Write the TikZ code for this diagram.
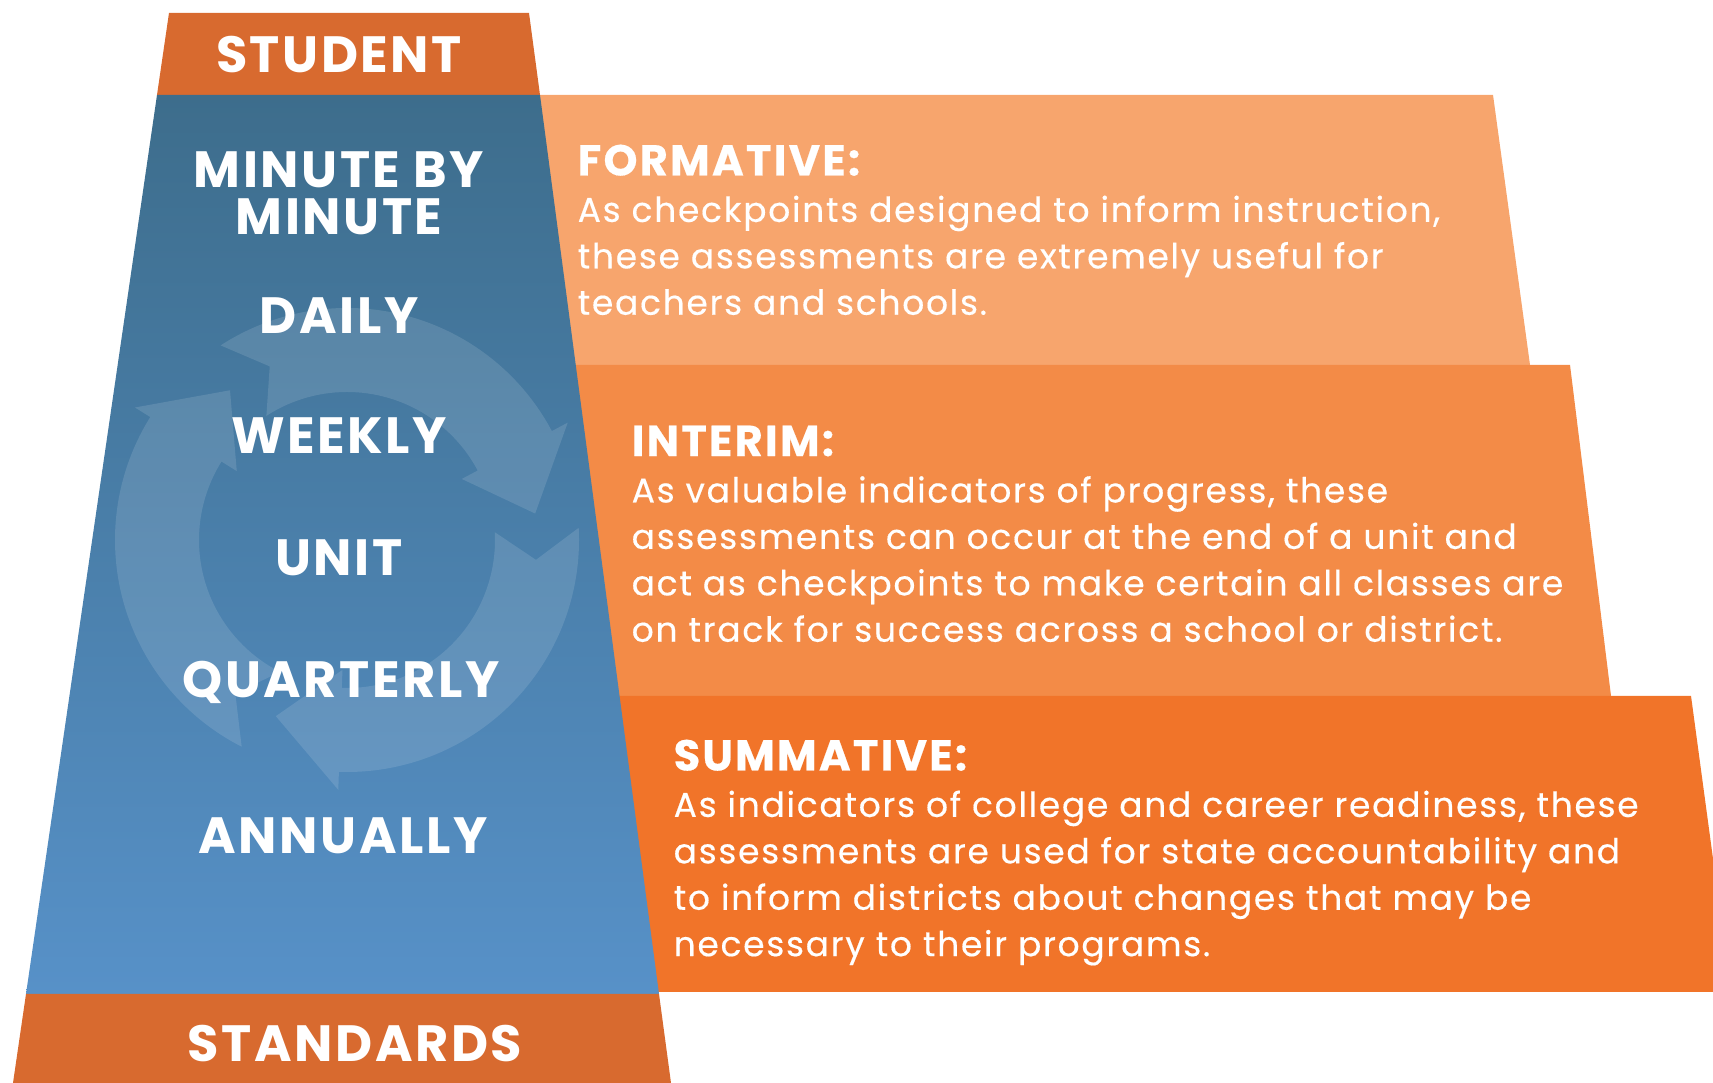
\documentclass[tikz,border=0pt]{standalone}
\usepackage{fontspec}
\setmainfont{Poppins}

\definecolor{studc}{HTML}{D86A2F}
\definecolor{bluetop}{HTML}{3D6D8C}
\definecolor{bluemid}{HTML}{5A92C3}
\definecolor{bluebot}{HTML}{5791C8}
\definecolor{formc}{HTML}{F7A56D}
\definecolor{interc}{HTML}{F38B47}
\definecolor{summc}{HTML}{F17429}

\begin{document}
\begin{tikzpicture}[x=0.01cm, y=0.01cm,
  band/.style={text=white, font=\bfseries\fontsize{14.5}{13.4}\selectfont\addfontfeature{LetterSpace=5}, align=center, inner sep=0},
  panel/.style={text=white, font=\fontsize{9.8}{13.2}\selectfont\addfontfeatures{LetterSpace=5,FakeBold=0.4}, align=left, inner sep=0, anchor=north west},
  ring/.style={fill=white, opacity=0.12}]

\clip (0,0) rectangle (1713,1083);

% panels on the right
\fill[formc] (480,988) -- (1493,988) -- (1530,718) -- (480,718) -- cycle;
\fill[interc] (480,718) -- (1570,718) -- (1611,387) -- (480,387) -- cycle;
\fill[summc] (480,387) -- (1691,387) -- (1731,91) -- (480,91) -- cycle;

% the column
\fill[studc] (169,1070) -- (529,1070) -- (540,988) -- (157,988) -- cycle;
\shade[top color=bluetop, middle color=bluemid, bottom color=bluebot]
  (157,988) -- (540,988) -- (659,89) -- (26,89) -- cycle;
\fill[studc] (26,89) -- (659,89) -- (671,0) -- (13,0) -- cycle;

% cycle arrows
\begin{scope}
\clip (157,988) -- (540,988) -- (659,89) -- (26,89) -- cycle;
\begin{scope}[shift={(347,543)}]
\foreach \t in {128,8,248} {
  \fill[ring] ({\t+115}:232) arc[start angle=\t+115, end angle=\t+20, radius=232]
    -- ({\t+20}:250) -- (\t:190) -- ({\t+20}:130) -- ({\t+20}:148)
    arc[start angle=\t+20, end angle=\t+115, radius=148] -- ({\t+106}:190) -- cycle;
}
\end{scope}
\end{scope}

% column labels
\node (student) [band] at (339,1028) {STUDENT};
\node (minute) [band] at (339,890) {MINUTE BY\\MINUTE};
\node (daily) [band] at (339,767) {DAILY};
\node (weekly) [band] at (339,647) {WEEKLY};
\node (unit) [band] at (339,525) {UNIT};
\node (quarterly) [band] at (341,401) {QUARTERLY};
\node (annually) [band] at (343,247) {ANNUALLY};
\node (standards) [band] at (355,39) {STANDARDS};

% panel texts
\node (formative) [panel] at (577,939) {\textbf{\fontsize{12.3}{13.2}\selectfont FORMATIVE:}\\
  As checkpoints designed to inform instruction,\\
  these assessments are extremely useful for\\
  teachers and schools.};
\node (interim) [panel] at (631,658) {\textbf{\fontsize{12.3}{13.2}\selectfont INTERIM:}\\
  As valuable indicators of progress, these\\
  assessments can occur at the end of a unit and\\
  act as checkpoints to make certain all classes are\\
  on track for success across a school or district.};
\node (summative) [panel] at (673,344) {\textbf{\fontsize{12.3}{13.2}\selectfont SUMMATIVE:}\\
  As indicators of college and career readiness, these\\
  assessments are used for state accountability and\\
  to inform districts about changes that may be\\
  necessary to their programs.};

\end{tikzpicture}
\end{document}
